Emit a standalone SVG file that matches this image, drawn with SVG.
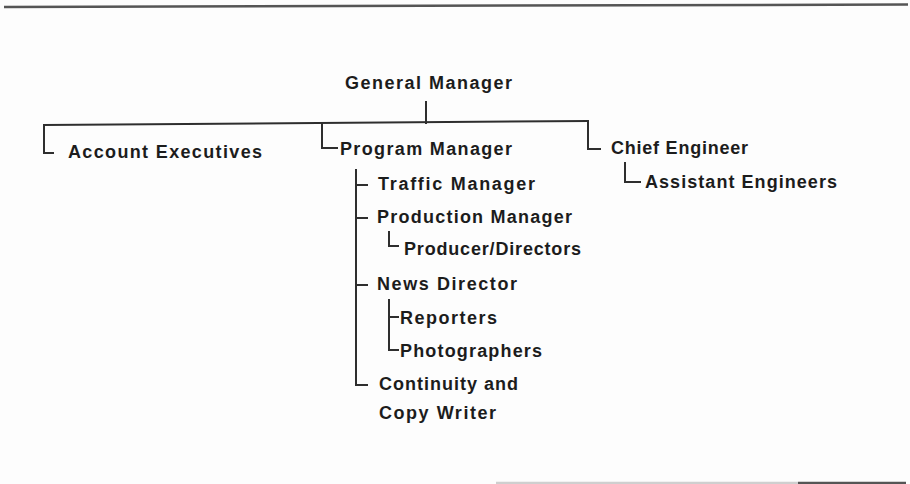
<svg xmlns="http://www.w3.org/2000/svg" width="910" height="484" viewBox="0 0 910 484">
  <style>
    .lbl { font-family: "Liberation Sans", Arial, Helvetica, sans-serif; font-size: 18px; font-weight: bold; fill: #1c1c1c; }
    .wire { fill: none; stroke: #2e2e2e; stroke-width: 2; stroke-linecap: square; }
    .rule { fill: none; stroke-width: 2.5; }
  </style>
  <rect width="910" height="484" fill="#fdfdfd"/>

  <!-- page rules -->
  <line class="rule" x1="4" y1="7" x2="908" y2="4.5" stroke="#555"/>
  <line class="rule" x1="496" y1="483" x2="798" y2="483" stroke="#cfcfcf"/>
  <line class="rule" x1="798" y1="483" x2="906" y2="483" stroke="#555"/>

  <!-- connectors -->
  <g id="connectors">
    <path class="wire" d="M426,102 V123"/>
    <path class="wire" d="M44,125 L588,121"/>
    <path class="wire" d="M44,125 V153 H53"/>
    <path class="wire" d="M322,123 V148 H337"/>
    <path class="wire" d="M588,121 V149 H600"/>
    <path class="wire" d="M625,163 V182 H640"/>
    <path class="wire" d="M356,170 V385 H367"/>
    <path class="wire" d="M356,185 H367"/>
    <path class="wire" d="M356,218 H367"/>
    <path class="wire" d="M356,285 H367"/>
    <path class="wire" d="M389,232 V246 H398"/>
    <path class="wire" d="M389,300 V350 H398"/>
    <path class="wire" d="M389,317 H398"/>
  </g>

  <g id="general-manager"><text class="lbl" x="345" y="89" textLength="167" lengthAdjust="spacing">General Manager</text></g>
  <g id="account-executives"><text class="lbl" x="68" y="158" textLength="194" lengthAdjust="spacing">Account Executives</text></g>
  <g id="program-manager"><text class="lbl" x="340" y="155" textLength="172" lengthAdjust="spacing">Program Manager</text></g>
  <g id="chief-engineer"><text class="lbl" x="611" y="154" textLength="137" lengthAdjust="spacing">Chief Engineer</text></g>
  <g id="assistant-engineers"><text class="lbl" x="645" y="188" textLength="192" lengthAdjust="spacing">Assistant Engineers</text></g>
  <g id="traffic-manager"><text class="lbl" x="378" y="190" textLength="157" lengthAdjust="spacing">Traffic Manager</text></g>
  <g id="production-manager"><text class="lbl" x="377" y="223" textLength="195" lengthAdjust="spacing">Production Manager</text></g>
  <g id="producer-directors"><text class="lbl" x="404" y="255" textLength="177" lengthAdjust="spacing">Producer/Directors</text></g>
  <g id="news-director"><text class="lbl" x="377" y="290" textLength="140" lengthAdjust="spacing">News Director</text></g>
  <g id="reporters"><text class="lbl" x="400" y="324" textLength="97" lengthAdjust="spacing">Reporters</text></g>
  <g id="photographers"><text class="lbl" x="400" y="357" textLength="142" lengthAdjust="spacing">Photographers</text></g>
  <g id="continuity-copy-writer">
    <text class="lbl" x="379" y="390" textLength="139" lengthAdjust="spacing">Continuity and</text>
    <text class="lbl" x="379" y="419" textLength="117" lengthAdjust="spacing">Copy Writer</text>
  </g>
</svg>
